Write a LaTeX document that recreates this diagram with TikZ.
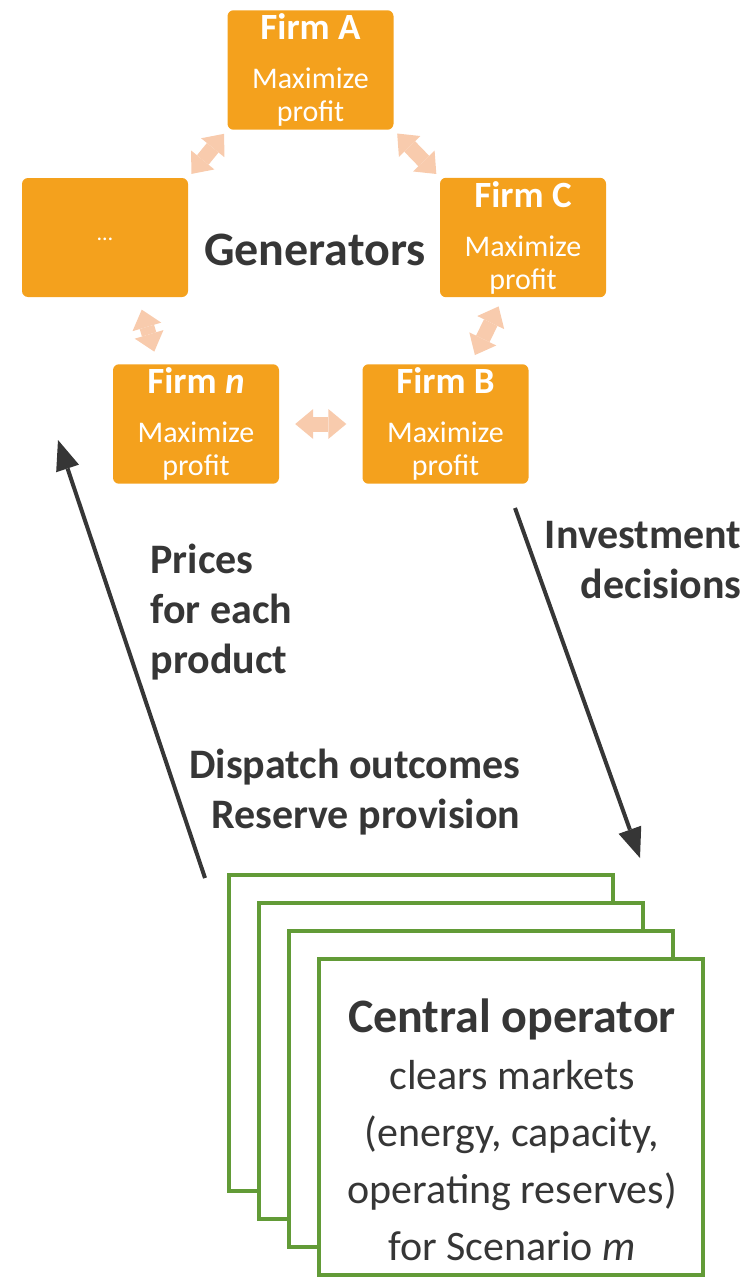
\documentclass[tikz,border=0pt]{standalone}
\usepackage{fontspec}
\setmainfont{Carlito}
\usetikzlibrary{arrows.meta}

\definecolor{firmorange}{HTML}{F4A11D}
\definecolor{linkpeach}{HTML}{F8CBAD}
\definecolor{opgreen}{HTML}{629B37}
\definecolor{darktext}{HTML}{363636}

\tikzset{
	firm/.style={rounded corners=6pt, fill=firmorange, minimum width=166pt, minimum height=119pt,
		text=white, align=center, font=\fontsize{30}{33}\selectfont},
	link/.style={line width=15pt, draw=linkpeach,
		{Triangle[width=30pt,length=18pt,line width=0pt]}-{Triangle[width=30pt,length=18pt,line width=0pt]}},
	flow/.style={line width=4pt, draw=darktext, -{Triangle[width=24pt,length=30pt,line width=0pt]}},
	opbox/.style={draw=opgreen, line width=4pt, fill=white, minimum width=384pt, minimum height=316pt},
	lbl/.style={text=darktext, font=\bfseries\fontsize{42}{50}\selectfont}
}
\newcommand{\firmname}[1]{\textbf{\fontsize{37}{37}\selectfont #1}}

\begin{document}
\begin{tikzpicture}[x=1pt,y=-1pt]
		\useasboundingbox (0,0) rectangle (743,1279);

		% Generators
		\node[firm] (firmA) at (310.5,70) {\firmname{Firm A}\\[16pt]Maximize\\profit};
		\node[firm] (dots) at (105,237.5) {\raisebox{-6pt}{\fontsize{22}{22}\selectfont\dots}};
		\node[firm] (firmC) at (523,237.5) {\firmname{Firm C}\\[16pt]Maximize\\profit};
		\node[firm] (firmN) at (196,424) {\firmname{Firm \textit{n}}\\[16pt]Maximize\\profit};
		\node[firm] (firmB) at (445.5,424) {\firmname{Firm B}\\[16pt]Maximize\\profit};
		\node[text=darktext, font=\bfseries\fontsize{48}{50}\selectfont] (gen) at (315,250) {Generators};

		% Competition between firms
		\draw[link, shorten <=5pt, shorten >=5pt] (firmA.south west) -- (dots.north east);
		\draw[link, shorten <=5pt, shorten >=5pt] (firmA.south east) -- (firmC.north west);
		\draw[link, shorten <=13pt, shorten >=13pt] ([xshift=33pt]dots.south) -- ([xshift=-38pt]firmN.north);
		\draw[link, shorten <=10pt, shorten >=10pt] ([xshift=-20pt]firmC.south) -- ([xshift=25pt]firmB.north);
		\draw[link, shorten <=16pt, shorten >=16pt] (firmN.east) -- (firmB.west);

		% Scenario stack of the central operator
		\foreach \i in {0,...,3}
			\node[opbox] (op\i) at (421+30*\i,1033+28*\i) {};
		\node[text=darktext, align=center, font=\fontsize{42}{57}\selectfont] (central) at (512,1130)
			{\textbf{\fontsize{48}{57}\selectfont Central operator}\\clears markets\\(energy, capacity,\\operating reserves)\\for Scenario \textit{m}};

		% Information flow
		\coordinate (priceTail) at (205,878);
		\coordinate (priceTip) at (58,440);
		\coordinate (investTail) at (515,508);
		\coordinate (investTip) at (640,858);
		\draw[flow] (priceTail) -- (priceTip);
		\draw[flow] (investTail) -- (investTip);

		\node[lbl, anchor=west, align=left] (prices) at (147,612) {Prices\\for each\\product};
		\node[lbl, anchor=east, align=right] (invest) at (745,560) {Investment\\decisions};
		\node[lbl, anchor=east, align=right] (dispatch) at (524,792) {Dispatch outcomes\\Reserve provision};
	\end{tikzpicture}
\end{document}
